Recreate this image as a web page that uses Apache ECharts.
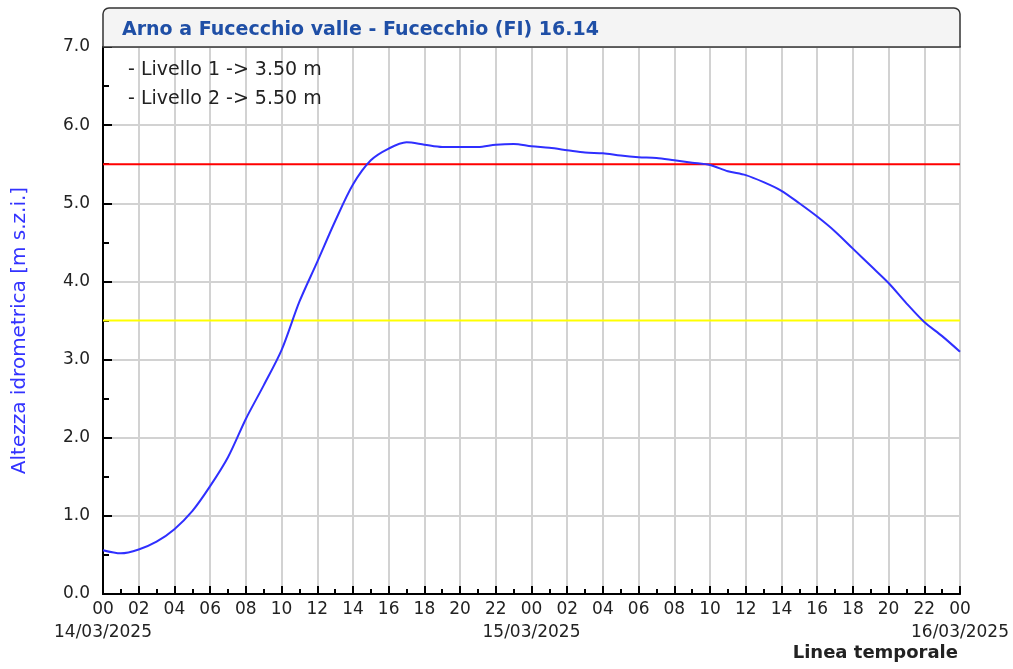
<!DOCTYPE html>
<html>
<head>
<meta charset="utf-8">
<script src="https://cdn.jsdelivr.net/npm/echarts@6/dist/echarts.min.js"></script>
<style>
  html, body { margin: 0; padding: 0; background: #fff; }
  #chart { width: 1013px; height: 669px; }
</style>
</head>
<body>
<div id="chart"></div>
<script>
// stazione e titolo
const stationTitle = 'Arno a Fucecchio valle - Fucecchio (FI) 16.14';
const yAxisName = 'Altezza idrometrica [m s.z.i.]';
const xAxisName = 'Linea temporale';

// date sotto le etichette delle ore (ore dall'inizio -> data)
const dateLabels = { 0: '14/03/2025', 24: '15/03/2025', 48: '16/03/2025' };

// livelli di guardia
const levelNames = ['Livello 1', 'Livello 2'];
const levelValues = [3.5, 5.5];
const levelColors = ['#ffff00', '#ff0000'];

// ore dall'inizio (00 del 14/03) e altezza
const hours = [
  0, 1, 2, 3, 4, 5, 6, 7, 8, 9, 10, 11, 12, 13, 14, 15, 16, 17, 18, 19, 20, 21, 22, 23,
  24, 25, 26, 27, 28, 29, 30, 31, 32, 33, 34, 35, 36, 37, 38, 39, 40, 41, 42, 43, 44, 45, 46, 47, 48
];
const heights = [
  0.56, 0.52, 0.57, 0.67, 0.83, 1.06, 1.38, 1.75, 2.24, 2.67, 3.12, 3.74, 4.25, 4.77, 5.24, 5.55, 5.70, 5.78, 5.75, 5.72, 5.72, 5.72, 5.75, 5.76,
  5.73, 5.71, 5.68, 5.65, 5.64, 5.61, 5.59, 5.58, 5.55, 5.52, 5.49, 5.41, 5.36, 5.27, 5.16, 5.00, 4.83, 4.64, 4.42, 4.20, 3.98, 3.72, 3.48, 3.30, 3.10
];

const FONT = '"DejaVu Sans", sans-serif';

const chart = echarts.init(document.getElementById('chart'));

// linee orizzontali dei livelli
const levelSeries = levelValues.map((v, i) => ({
  name: levelNames[i],
  type: 'line',
  data: [[0, v], [48, v]],
  symbol: 'none',
  silent: true,
  lineStyle: { color: levelColors[i], width: 2 },
  z: 3
}));

const option = {
  animation: false,
  backgroundColor: '#ffffff',
  grid: {
    left: 103,
    right: 53,
    top: 47,
    bottom: 75,
    show: true,
    borderColor: '#333333',
    borderWidth: 1.5,
    backgroundColor: 'transparent'
  },
  xAxis: [
    {
      type: 'value',
      min: 0,
      max: 48,
      interval: 2,
      axisLine: { show: true, lineStyle: { color: '#000', width: 2 } },
      axisTick: { show: true, inside: true, length: 8, lineStyle: { color: '#000', width: 2 } },
      minorTick: { show: true, splitNumber: 2, length: 5, lineStyle: { color: '#000', width: 2 } },
      splitLine: { show: true, lineStyle: { color: '#d2d2d2', width: 2 } },
      axisLabel: {
        margin: 7,
        fontFamily: FONT,
        fontSize: 17,
        color: '#222',
        showMinLabel: true,
        showMaxLabel: true,
        formatter: v => String(v % 24).padStart(2, '0')
      }
    },
    {
      // solo le date sotto le ore
      type: 'value',
      position: 'bottom',
      min: 0,
      max: 48,
      interval: 24,
      axisLine: { show: false },
      axisTick: { show: false },
      splitLine: { show: false },
      axisLabel: {
        margin: 30,
        fontFamily: FONT,
        fontSize: 17,
        color: '#222',
        showMinLabel: true,
        showMaxLabel: true,
        formatter: v => dateLabels[v] || ''
      }
    }
  ],
  yAxis: {
    type: 'value',
    min: 0,
    max: 7,
    interval: 1,
    name: yAxisName,
    nameLocation: 'middle',
    nameGap: 73,
    nameTextStyle: { fontFamily: FONT, fontSize: 20, color: '#3333ff', padding: [0, 20, 0, 0] },
    axisLine: { show: true, lineStyle: { color: '#000', width: 2 } },
    axisTick: { show: true, inside: true, length: 9, lineStyle: { color: '#000', width: 2 } },
    minorTick: { show: true, splitNumber: 2, length: 6, lineStyle: { color: '#000', width: 2 } },
    splitLine: { show: true, lineStyle: { color: '#d2d2d2', width: 2 } },
    axisLabel: {
      margin: 13,
      fontFamily: FONT,
      fontSize: 17,
      color: '#222',
      formatter: v => v.toFixed(1)
    }
  },
  graphic: [
    {
      type: 'rect',
      shape: { x: 103, y: 8, width: 857, height: 39, r: [6, 6, 0, 0] },
      style: { fill: '#f4f4f4', stroke: '#333333', lineWidth: 1.5 },
      z: 10
    },
    {
      type: 'text',
      left: 122,
      top: 21,
      style: { text: stationTitle, font: 'bold 19px ' + FONT, fill: '#1f4fa6' },
      z: 11
    },
    {
      type: 'text',
      left: 128,
      top: 56,
      style: {
        text: levelNames.map((n, i) => '- ' + n + ' -> ' + levelValues[i].toFixed(2) + ' m').join('\n'),
        font: '19px ' + FONT,
        lineHeight: 29,
        fill: '#222'
      },
      z: 11
    },
    {
      type: 'text',
      right: 55,
      top: 644,
      style: { text: xAxisName, font: 'bold 18px ' + FONT, fill: '#222' },
      z: 11
    }
  ],
  series: levelSeries.concat([{
    name: 'Altezza',
    type: 'line',
    data: hours.map((h, i) => [h, heights[i]]),
    symbol: 'none',
    smooth: 0.3,
    lineStyle: { color: '#2f2fff', width: 2 },
    z: 4
  }])
};

chart.setOption(option);
</script>
</body>
</html>
